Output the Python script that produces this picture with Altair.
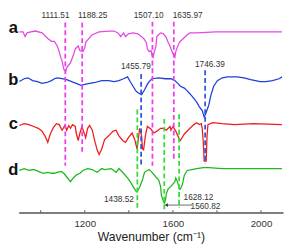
import altair as alt
import pandas as pd

FONT = "Liberation Sans"

# ---- spectra (wavenumber, offset intensity) ----
wn_a = [903, 920, 929, 938, 955, 976, 1006, 1032, 1049, 1062, 1075, 1084, 1092, 1097, 1105, 1114, 1118,
        1135, 1148, 1157, 1170, 1178, 1191, 1200, 1204, 1222, 1234, 1265, 1308, 1333, 1351, 1363, 1376,
        1385, 1398, 1419, 1441, 1462, 1471, 1480, 1484, 1492, 1501, 1505, 1510, 1514, 1523, 1527, 1544,
        1557, 1570, 1578, 1587, 1591, 1600, 1609, 1613, 1622, 1630, 1634, 1652, 1665, 1677, 1708, 1794,
        1923, 2095]
val_a = [193, 193, 188, 192, 193, 194, 192, 186, 183, 183, 178, 172, 165, 162, 153, 151, 155,
         160, 168, 175, 178, 173, 172, 176, 182, 187, 190, 193, 194, 194, 192, 188, 192,
         188, 191, 192, 191, 187, 185, 181, 175, 172, 173, 168, 166, 170, 178, 188, 192,
         191, 187, 182, 178, 175, 170, 166, 172, 178, 182, 183, 187, 190, 192, 192, 193,
         193, 193]

wn_b = [903, 925, 942, 963, 985, 1006, 1028, 1049, 1062, 1075, 1097, 1118, 1140, 1161, 1183, 1200,
        1222, 1247, 1277, 1308, 1333, 1355, 1376, 1394, 1406, 1419, 1432, 1441, 1458, 1471, 1484,
        1492, 1505, 1535, 1566, 1591, 1609, 1622, 1634, 1652, 1665, 1677, 1695, 1708, 1720, 1733,
        1742, 1746, 1751, 1763, 1772, 1785, 1802, 1824, 1849, 1892, 1923, 1953, 1996, 2022, 2052,
        2082, 2095]
val_b = [140, 143, 144, 141, 140, 138, 139, 141, 143, 144, 143, 142, 140, 138, 136, 137,
         138, 139, 141, 141, 140, 141, 143, 145, 140, 135, 130, 128, 126, 131, 137,
         140, 143, 144, 143, 143, 141, 138, 135, 133, 130, 127, 122, 118, 113, 109,
         102, 104, 107, 115, 125, 135, 141, 144, 145, 145, 144, 142, 140, 140, 141,
         143, 145]

wn_c = [903, 925, 946, 968, 989, 1006, 1019, 1032, 1041, 1049, 1058, 1071, 1084, 1097, 1110, 1118,
        1127, 1135, 1144, 1157, 1161, 1170, 1178, 1187, 1200, 1204, 1213, 1222, 1234, 1247, 1256,
        1265, 1277, 1290, 1308, 1329, 1342, 1355, 1372, 1385, 1398, 1415, 1428, 1437, 1441, 1449,
        1458, 1462, 1467, 1475, 1484, 1501, 1514, 1527, 1544, 1557, 1570, 1587, 1591, 1600, 1613,
        1630, 1634, 1652, 1673, 1695, 1708, 1720, 1729, 1733, 1738, 1742, 1751, 1755, 1759, 1781,
        1824, 1880, 1966, 2095]
val_c = [93, 95, 94, 92, 90, 87, 82, 75, 82, 87, 91, 95, 94, 88, 93, 88,
         93, 90, 94, 92, 85, 77, 85, 92, 83, 80, 90, 93, 88, 75, 67,
         62, 68, 78, 82, 87, 88, 82, 77, 75, 80, 85, 77, 68, 75, 90,
         82, 68, 67, 82, 92, 89, 85, 87, 90, 90, 88, 92, 88, 92, 87,
         78, 77, 84, 89, 94, 96, 94, 95, 90, 75, 55, 55, 82, 94, 96,
         95, 94, 95, 94]

wn_d = [903, 925, 946, 968, 989, 1011, 1032, 1049, 1062, 1075, 1092, 1105, 1118, 1135, 1148, 1161,
        1178, 1191, 1213, 1234, 1256, 1277, 1290, 1320, 1342, 1355, 1376, 1394, 1406, 1419, 1432,
        1437, 1449, 1462, 1471, 1492, 1505, 1523, 1535, 1544, 1548, 1557, 1561, 1566, 1570, 1578,
        1591, 1609, 1613, 1622, 1630, 1634, 1643, 1652, 1665, 1686, 1708, 1738, 1763, 1824, 1953,
        2095]
val_d = [45, 47, 45, 46, 44, 42, 43, 42, 42, 43, 44, 42, 38, 33, 37, 40,
         42, 45, 47, 46, 43, 47, 46, 47, 43, 47, 42, 37, 33, 28, 23,
         22, 27, 35, 43, 46, 43, 38, 35, 28, 18, 12, 10, 13, 20, 25,
         28, 33, 37, 32, 25, 25, 30, 40, 45, 46, 47, 48, 48, 47, 47,
         47]

series_names = ["a", "b", "c", "d"]
series_colors = ["#E449E4", "#1F3FD8", "#EE1C1C", "#1EB81E"]

# ---- dashed marker lines ----
peak_wn = [1111.51, 1188.25, 1507.10, 1604, 1455.79, 1746.39, 1438.52, 1560.82, 1628.12]
peak_top = [203, 203, 204, 204, 148, 152, 110, 100, 105]
peak_bot = [50, 65, 50, 55, 50, 52, 3, 2, 5]
peak_grp = ["m", "m", "m", "m", "bl", "bl", "g", "g", "g"]
grp_names = ["m", "bl", "g"]
grp_colors = ["#F03CF0", "#3355DD", "#33DD33"]

# ---- peak labels ----
lab_text = ["1111.51", "1188.25", "1507.10", "1635.97", "1455.79", "1746.39", "1438.52", "1628.12", "1560.82"]
lab_wn = [1067, 1236, 1490, 1667, 1432, 1768, 1355, 1716, 1748]
lab_y = [211, 211, 211, 211, 157, 159, 14, 17, 7]

# arrow for 1560.82
arrow_wn = [1574, 1686]
arrow_y = [8]

# series letters
letter_txt = ["a", "b", "c", "d"]
letter_wn = [876, 876, 876, 876]
letter_y = [197, 142, 95, 45]

# axis ticks
tick_wn = [1000, 1200, 1400, 1600, 1800, 2000]
tick_labels = [1200, 1600, 2000]

rows = []
for name, wn, vals in zip(series_names, [wn_a, wn_b, wn_c, wn_d], [val_a, val_b, val_c, val_d]):
    for w, v in zip(wn, vals):
        rows.append({"series": name, "wn": w, "val": v})
spec = pd.DataFrame(rows)

peaks = pd.DataFrame({"wn": peak_wn, "top": peak_top, "bot": peak_bot, "grp": peak_grp})
labels = pd.DataFrame({"wn": lab_wn, "y": lab_y, "text": lab_text})
arrow = pd.DataFrame({"wn": [arrow_wn[0]], "wn2": [arrow_wn[1]], "y": arrow_y})
arrow_head = pd.DataFrame({"wn": [arrow_wn[0] - 4], "y": arrow_y})
letters = pd.DataFrame({"wn": letter_wn, "y": letter_y, "text": letter_txt})
ticks = pd.DataFrame({"wn": tick_wn, "y": [0] * len(tick_wn), "y2": [2.5] * len(tick_wn)})

xscale = alt.Scale(domain=[900, 2100], nice=False, zero=False)
yscale = alt.Scale(domain=[0, 215], nice=False, zero=False)

xaxis = alt.Axis(values=tick_labels, ticks=False, grid=False, domainColor="#555555", domainWidth=1.5,
                 labelFont=FONT, labelFontSize=10, labelColor="#333333", labelPadding=6,
                 title="Wavenumber (cm⁻¹)", titleFont=FONT, titleFontSize=12.5, titleFontWeight="normal",
                 titleColor="#222222", titlePadding=3, format="d")

X = alt.X("wn:Q", scale=xscale, axis=xaxis)


def Xn(f="wn:Q"):
    return alt.X(f, scale=xscale, axis=xaxis)


def Yn(f):
    return alt.Y(f, scale=yscale, axis=None)


curves = alt.Chart(spec).mark_line(strokeWidth=1.3, clip=True).encode(
    x=X, y=Yn("val:Q"),
    color=alt.Color("series:N", scale=alt.Scale(domain=series_names, range=series_colors), legend=None),
    detail="series:N",
)

vlines = alt.Chart(peaks).mark_rule(strokeDash=[5, 3], strokeWidth=1.8).encode(
    x=Xn(), y=Yn("top:Q"), y2="bot:Q",
    color=alt.Color("grp:N", scale=alt.Scale(domain=grp_names, range=grp_colors), legend=None),
)

peak_text = alt.Chart(labels).mark_text(font=FONT, fontSize=8.5, color="#333333").encode(
    x=Xn(), y=Yn("y:Q"), text="text:N"
)

arrow_line = alt.Chart(arrow).mark_rule(color="#444444", strokeWidth=0.8).encode(
    x=Xn(), x2="wn2:Q", y=Yn("y:Q")
)
arrow_pt = alt.Chart(arrow_head).mark_point(shape="triangle-left", filled=True, size=14,
                                            color="#333333", opacity=1).encode(
    x=Xn(), y=Yn("y:Q")
)

letter_text = alt.Chart(letters).mark_text(font=FONT, fontSize=17, fontWeight="bold", color="#111111",
                                           align="center", baseline="middle").encode(
    x=Xn(), y=Yn("y:Q"), text="text:N"
)

tick_marks = alt.Chart(ticks).mark_rule(color="#555555", strokeWidth=1).encode(
    x=Xn(), y=Yn("y:Q"), y2="y2:Q"
)

chart = alt.layer(
    curves, vlines, peak_text, arrow_line, arrow_pt, letter_text, tick_marks
).resolve_scale(color="independent").properties(
    width=272, height=207,
    autosize=alt.AutoSizeParams(type="none"),
    padding={"left": 11, "top": 0, "right": 2, "bottom": 33},
).configure_view(stroke=None)

chart.save("out.html", embed_options={"renderer": "svg", "actions": False})
